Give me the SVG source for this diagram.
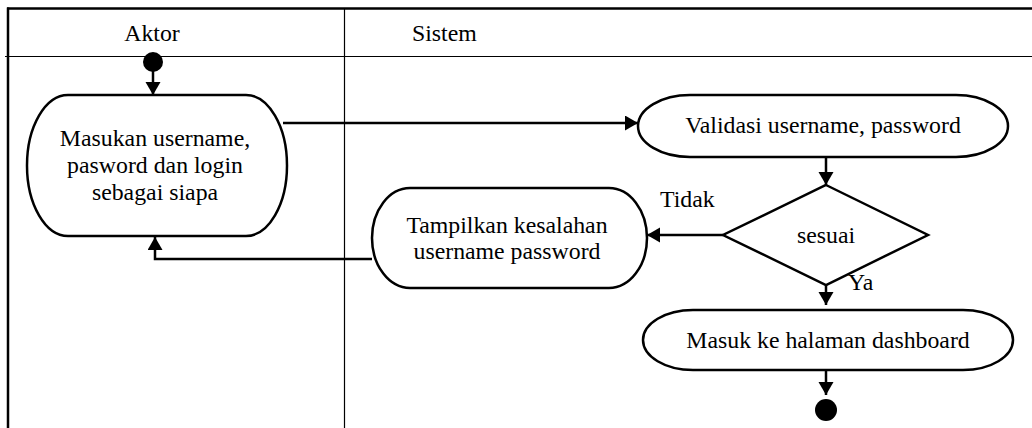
<svg xmlns="http://www.w3.org/2000/svg" width="1032" height="428" viewBox="0 0 1032 428">
<style>
  .frame{stroke:#000;stroke-width:2.5;fill:none}
  .thin{stroke:#000;stroke-width:1.2;fill:none}
  .node{fill:#fff;stroke:#000;stroke-width:2.5}
  .edge{fill:none;stroke:#000;stroke-width:2.5}
  text{font-family:"Liberation Serif","Times New Roman",serif;font-size:23.8px;fill:#000}
  .c{text-anchor:middle}
</style>
<defs>
  <marker id="arr" markerUnits="userSpaceOnUse" markerWidth="14" markerHeight="16" refX="13" refY="7.5" orient="auto" viewBox="0 0 14 16">
    <path d="M0,0 L13,7.5 L0,15 z" fill="#000"/>
  </marker>
</defs>
<rect width="1032" height="428" fill="#fff"/>
<g id="swimlanes">
  <line class="frame" x1="7" y1="8.5" x2="1032" y2="8.5"/>
  <line class="frame" x1="8" y1="7.5" x2="8" y2="428"/>
  <line class="thin" x1="5" y1="56.5" x2="1032" y2="56.5"/>
  <line class="thin" x1="344.5" y1="8" x2="344.5" y2="428"/>
  <text class="c" x="152" y="41">Aktor</text>
  <text x="412" y="41">Sistem</text>
</g>
<g id="connectors">
  <line class="edge" x1="153" y1="70" x2="153" y2="95" marker-end="url(#arr)"/>
  <line class="edge" x1="283" y1="123" x2="638" y2="123" marker-end="url(#arr)"/>
  <line class="edge" x1="826" y1="157" x2="826" y2="185" marker-end="url(#arr)"/>
  <line class="edge" x1="723" y1="235" x2="647" y2="235" marker-end="url(#arr)"/>
  <polyline class="edge" points="372,259 155,259 155,237" marker-end="url(#arr)"/>
  <line class="edge" x1="826" y1="285" x2="826" y2="305" marker-end="url(#arr)"/>
  <line class="edge" x1="826" y1="370" x2="826" y2="395" marker-end="url(#arr)"/>
  <text x="660" y="207">Tidak</text>
  <text x="848" y="290">Ya</text>
</g>
<g id="start">
  <circle cx="153" cy="62" r="10" fill="#000"/>
</g>
<g id="input-login">
  <rect class="node" x="27" y="95" width="260" height="141" rx="41" ry="70.5"/>
  <text class="c" x="155" y="146">Masukan username,</text>
  <text class="c" x="155" y="173">pasword dan login</text>
  <text class="c" x="155" y="200">sebagai siapa</text>
</g>
<g id="validasi">
  <rect class="node" x="638" y="95" width="370" height="62" rx="52" ry="31"/>
  <text class="c" x="823" y="133">Validasi username, password</text>
</g>
<g id="sesuai">
  <polygon class="node" points="826,185 928,235 826,285 723,235"/>
  <text class="c" x="826" y="243">sesuai</text>
</g>
<g id="tampilkan-kesalahan">
  <rect class="node" x="372" y="188" width="275" height="100" rx="38" ry="50"/>
  <text class="c" x="507" y="233">Tampilkan kesalahan</text>
  <text class="c" x="507" y="259">username password</text>
</g>
<g id="dashboard">
  <rect class="node" x="643" y="310" width="370" height="60" rx="50" ry="30"/>
  <text class="c" x="828" y="348">Masuk ke halaman dashboard</text>
</g>
<g id="end">
  <circle cx="826" cy="410" r="11" fill="#000"/>
</g>
</svg>
